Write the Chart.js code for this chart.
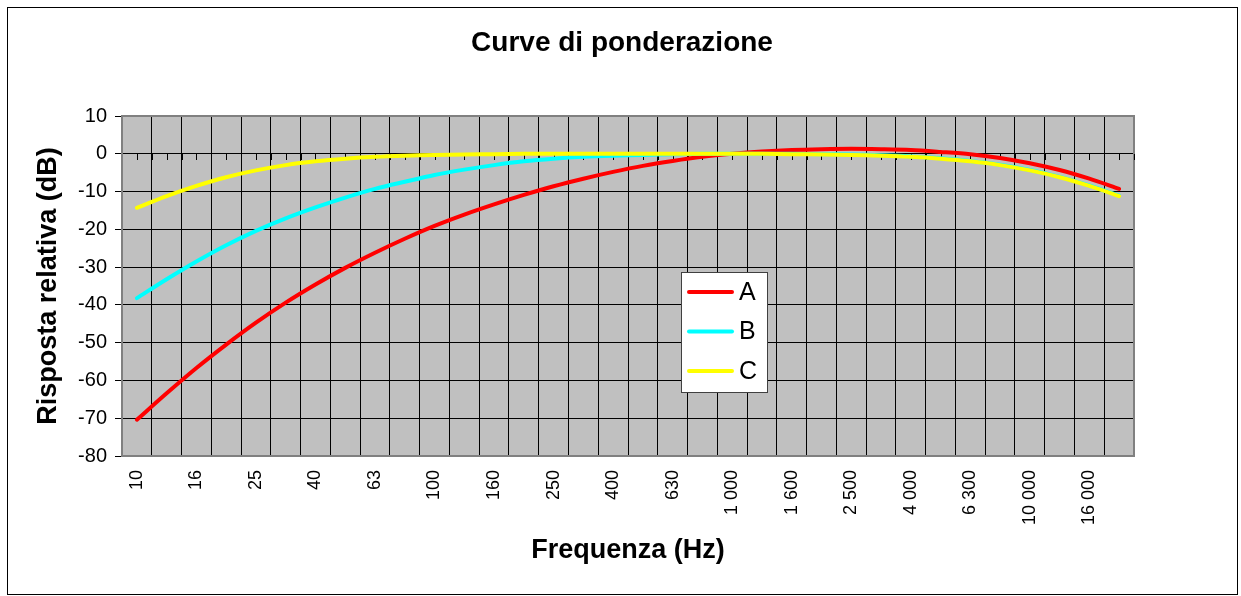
<!DOCTYPE html>
<html>
<head>
<meta charset="utf-8">
<title>Curve di ponderazione</title>
<script src="https://cdn.jsdelivr.net/npm/chart.js@4.4.1/dist/chart.umd.min.js"></script>
<style>
  html, body { margin: 0; padding: 0; background: #fff; }
  canvas { display: block; }
</style>
</head>
<body>
<canvas id="chart" width="1241" height="596"></canvas>
<script>
// Bande di terzo d'ottava (Hz)
const frequencies = [10, 12.5, 16, 20, 25, 31.5, 40, 50, 63, 80, 100, 125, 160, 200, 250, 315,
  400, 500, 630, 800, 1000, 1250, 1600, 2000, 2500, 3150, 4000, 5000, 6300, 8000,
  10000, 12500, 16000, 20000];

// Risposta relativa (dB)
const curveA = [-70.4, -63.4, -56.7, -50.5, -44.7, -39.4, -34.6, -30.2, -26.2, -22.5, -19.1, -16.1,
  -13.4, -10.9, -8.6, -6.6, -4.8, -3.2, -1.9, -0.8, 0, 0.6, 1.0, 1.2, 1.3, 1.2, 1.0, 0.5,
  -0.1, -1.1, -2.5, -4.3, -6.6, -9.3];
const curveB = [-38.2, -33.2, -28.5, -24.2, -20.4, -17.1, -14.2, -11.6, -9.3, -7.4, -5.6, -4.2,
  -3.0, -2.0, -1.3, -0.8, -0.5, -0.3, -0.1, 0, 0, 0, 0, -0.1, -0.2, -0.4, -0.7, -1.2,
  -1.9, -2.9, -4.3, -6.1, -8.4, -11.1];
const curveC = [-14.3, -11.2, -8.5, -6.2, -4.4, -3.0, -2.0, -1.3, -0.8, -0.5, -0.3, -0.2,
  -0.1, 0, 0, 0, 0, 0, 0, 0, 0, 0, -0.1, -0.2, -0.3, -0.5, -0.8, -1.3,
  -2.0, -3.0, -4.4, -6.2, -8.5, -11.2];

const yTicks = [-80, -70, -60, -50, -40, -30, -20, -10, 0, 10];

const FONT = "'Liberation Sans', Arial, sans-serif";
Chart.defaults.font.family = FONT;
Chart.defaults.color = '#000';

// "1000" -> "1 000"
function formatHz(v) {
  return String(v).replace(/\B(?=(\d{3})+(?!\d))/g, ' ');
}

// ── Sfondo grigio, cornice, titolo, legenda ──
const excelLook = {
  id: 'excelLook',
  beforeDraw(chart) {
    const { ctx, chartArea: a } = chart;
    ctx.save();
    ctx.fillStyle = '#fff';
    ctx.fillRect(0, 0, chart.width, chart.height);
    ctx.fillStyle = '#c0c0c0';
    ctx.fillRect(a.left, a.top, a.right - a.left, a.bottom - a.top);
    ctx.restore();
  },
  beforeDatasetsDraw(chart) {
    const { ctx, chartArea: a, scales: { x, y } } = chart;
    ctx.save();
    ctx.strokeStyle = '#808080';
    ctx.lineWidth = 2;
    ctx.strokeRect(a.left, a.top, a.right - a.left, a.bottom - a.top);

    // tacche dell'asse categorie che incrocia a 0 dB
    const y0 = Math.round(y.getPixelForValue(0));
    const half = (a.right - a.left) / x.ticks.length / 2;
    ctx.strokeStyle = '#000';
    ctx.lineWidth = 1;
    ctx.beginPath();
    x.ticks.forEach((t, i) => {
      const c = Math.round(x.getPixelForTick(i)) + 0.5;
      ctx.moveTo(c, y0);
      ctx.lineTo(c, y0 + 6);
      const b = Math.round(x.getPixelForTick(i) + half) + 0.5;
      ctx.moveTo(b, y0);
      ctx.lineTo(b, y0 + 6);
    });
    ctx.stroke();
    ctx.restore();
  },
  afterDraw(chart) {
    const { ctx } = chart;
    ctx.save();
    // titolo
    ctx.fillStyle = '#000';
    ctx.font = 'bold 28px ' + FONT;
    ctx.textAlign = 'center';
    ctx.textBaseline = 'middle';
    ctx.fillText('Curve di ponderazione', 622, 43);

    // legenda dentro l'area del grafico
    const lx = 681, ly = 272, lw = 86, lh = 120;
    ctx.fillStyle = '#fff';
    ctx.fillRect(lx, ly, lw, lh);
    ctx.strokeStyle = '#404040';
    ctx.lineWidth = 1;
    ctx.strokeRect(lx + 0.5, ly + 0.5, lw, lh);
    ctx.font = '25px ' + FONT;
    ctx.textBaseline = 'middle';
    ctx.textAlign = 'left';
    chart.data.datasets.forEach((ds, i) => {
      const yy = ly + 20 + i * 39.5;
      ctx.strokeStyle = ds.borderColor;
      ctx.lineWidth = 4;
      ctx.lineCap = 'round';
      ctx.beginPath();
      ctx.moveTo(689, yy);
      ctx.lineTo(732, yy);
      ctx.stroke();
      ctx.fillStyle = '#000';
      ctx.fillText(ds.label, 739, yy + 1);
    });
    // cornice esterna
    ctx.strokeStyle = '#000';
    ctx.lineWidth = 1;
    ctx.strokeRect(7.5, 7.5, 1230, 587);
    ctx.restore();
  }
};

const lineStyle = { borderWidth: 4, pointRadius: 0, tension: 0.3, fill: false, borderCapStyle: 'round' };

new Chart(document.getElementById('chart'), {
  type: 'line',
  data: {
    labels: frequencies,
    datasets: [
      { label: 'A', data: curveA, borderColor: '#ff0000', order: 3, ...lineStyle },
      { label: 'B', data: curveB, borderColor: '#00ffff', order: 2, ...lineStyle },
      { label: 'C', data: curveC, borderColor: '#ffff00', order: 1, ...lineStyle }
    ]
  },
  options: {
    responsive: false,
    devicePixelRatio: 1,
    animation: false,
    layout: { padding: { left: 12, right: 107, top: 116, bottom: 10 } },
    plugins: {
      legend: { display: false },
      tooltip: { enabled: false },
      title: { display: false }
    },
    scales: {
      x: {
        type: 'category',
        offset: true,
        grid: { offset: true, color: '#000', lineWidth: 1, drawTicks: false },
        border: { display: false },
        ticks: {
          autoSkip: false,
          maxRotation: 90,
          minRotation: 90,
          padding: 14,
          color: '#000',
          font: { size: 18 },
          callback: (v, i) => (i % 2 === 0 ? formatHz(frequencies[i]) : '')
        },
        title: {
          display: true,
          text: 'Frequenza (Hz)',
          color: '#000',
          font: { size: 27, weight: 'bold' },
          padding: { top: 0, bottom: 19 }
        },
        afterFit: (s) => { s.height = 130; }
      },
      y: {
        min: -80,
        max: 10,
        afterBuildTicks: (s) => { s.ticks = yTicks.map(v => ({ value: v })); },
        grid: { color: '#000', lineWidth: 1, tickLength: 7, tickColor: '#000' },
        border: { display: false },
        ticks: { padding: 8, color: '#000', font: { size: 20 } },
        title: {
          display: true,
          text: 'Risposta relativa (dB)',
          color: '#000',
          font: { size: 27, weight: 'bold' },
          padding: { top: 20, bottom: 0 }
        },
        afterFit: (s) => { s.width = 110; }
      }
    }
  },
  plugins: [excelLook]
});
</script>
</body>
</html>
